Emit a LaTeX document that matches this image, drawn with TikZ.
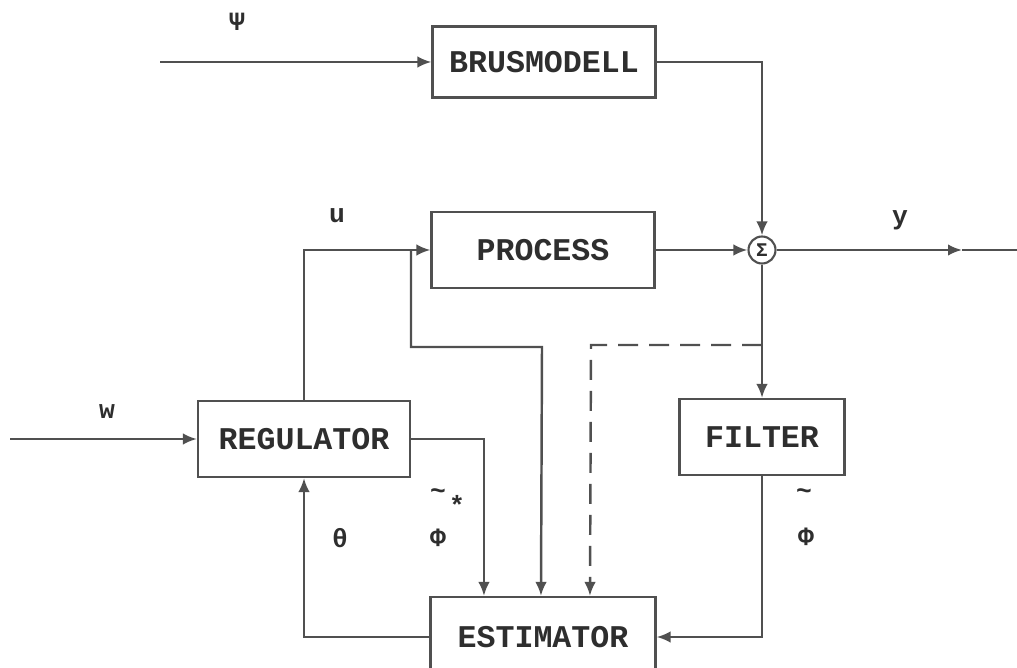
\documentclass[tikz,border=0pt]{standalone}
\usepackage{fontspec}
\setmonofont{Liberation Mono}
\usetikzlibrary{positioning, arrows.meta}
\usepackage{xcolor}
\definecolor{ink}{HTML}{505050}
\definecolor{txt}{HTML}{2E2E2E}

\begin{document}
\begin{tikzpicture}[
    x=0.02cm, y=-0.02cm,
    box/.style={draw=ink, line width=1.2pt, minimum width=#1, minimum height=1.52cm,
                inner sep=0pt, font=\fontsize{18}{20}\selectfont\ttfamily\bfseries, text=txt},
    box/.default=4.46cm,
    sum/.style={draw=ink, circle, line width=1.2pt, minimum size=0.54cm, inner sep=0pt,
                font=\fontsize{11}{11}\selectfont\ttfamily\bfseries, text=txt},
    arrow/.style={-{Latex[length=2.8mm, width=2.3mm]}, draw=ink, line width=1.4pt},
    label/.style={font=\fontsize{15}{16}\selectfont\ttfamily\bfseries, text=txt, inner sep=0pt}
]
\useasboundingbox (0,0) rectangle (1017,668);
\clip (0,0) rectangle (1017,668);

% Blocks
\node[box, minimum height=1.42cm] (brus) at (544,62) {BRUSMODELL};
\node[box] (proc) at (543,250) {PROCESS};
\node[sum] (sig) at (762,250) {Σ};
\node[box=4.24cm] (reg) at (304,439) {REGULATOR};
\node[box=3.3cm] (filt) at (762,437) {FILTER};
\node[box=4.5cm, minimum height=1.6cm] (est) at (543,637) {ESTIMATOR};

% Free ends and bends
\coordinate (psiin) at (160,62);
\coordinate (win) at (10,439);
\coordinate (ymid) at (962,250);
\coordinate (yout) at (1017,250);
\coordinate (ubr) at (411,250);
\coordinate (ubend) at (542,347);
\coordinate (dsrc) at (762,345);
\coordinate (dbend) at (591,345);
\path (est.north west) ++(54.5,0) coordinate (e1)
      ++(57,0) coordinate (e2)
      ++(49,0) coordinate (e3);

% Labels
\node[label] (psi) at (237,22) {Ψ};
\node[label] (u) at (337,216) {u};
\node[label] (y) at (900,220) {y};
\node[label] (w) at (107,412) {w};
\node[label] (theta) at (340,538) {θ};
\node[label] (tilde1) at (438,494) {\textasciitilde};
\node[label] (star) at (457,505) {*};
\node[label] (phi1) at (438,538) {Φ};
\node[label] (tilde2) at (804,494) {\textasciitilde};
\node[label] (phi2) at (806,537) {Φ};

% Arrows
\draw[arrow] (psiin) -- (brus);
\draw[arrow] (brus.east) -| (sig);
\draw[arrow] (proc) -- (sig);
\draw[arrow] (sig) -- (ymid);
\draw[arrow, -] (ymid) -- (yout);
\draw[arrow] (win) -- (reg);
\draw[arrow] (reg.north) |- (proc.west);
\draw[arrow] (ubr) |- (ubend) -- (e2);
\draw[arrow, dash pattern=on 0.4cm off 0.22cm] (dsrc) -- (dbend) -- (e3);
\draw[arrow] (reg.east) -| (e1);
\draw[arrow] (sig) -- (filt);
\draw[arrow] (filt.south) |- (est.east);
\draw[arrow] (est.west) -| (reg.south);

\end{tikzpicture}
\end{document}
